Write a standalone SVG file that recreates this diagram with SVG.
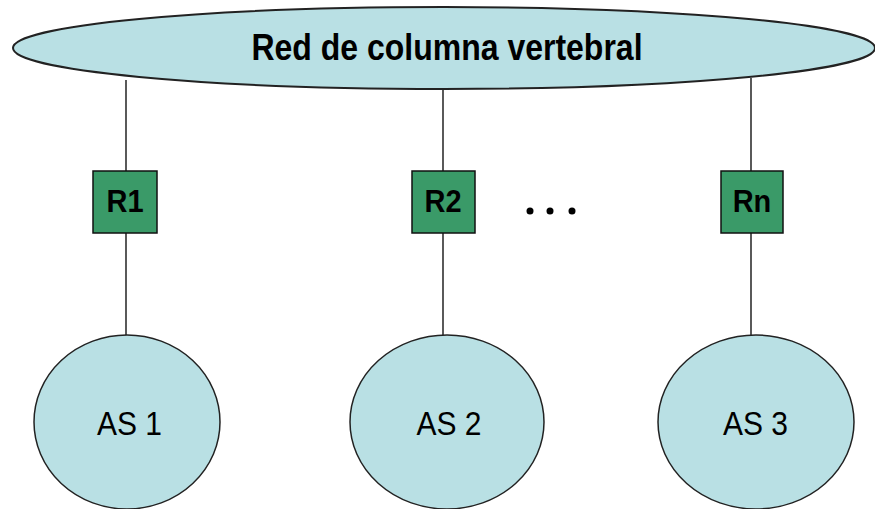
<svg xmlns="http://www.w3.org/2000/svg" width="875" height="509" viewBox="0 0 875 509">
<style>
.cloud{fill:#b9e0e4;stroke:#222;stroke-width:2}
.box{fill:#3a9a68;stroke:#111;stroke-width:1.5}
.link{stroke:#000;stroke-width:1.3;fill:none}
.t{font-family:"Liberation Sans",Arial,sans-serif;fill:#000;text-anchor:middle}
.b{font-weight:bold}
</style>
<rect width="875" height="509" fill="#fff"/>
<g id="connectors">
<line class="link" x1="126" y1="80" x2="126" y2="171"/>
<line class="link" x1="126" y1="233" x2="126" y2="336"/>
<line class="link" x1="443" y1="88" x2="443" y2="171"/>
<line class="link" x1="443" y1="233" x2="443" y2="336"/>
<line class="link" x1="751" y1="78" x2="751" y2="171"/>
<line class="link" x1="751" y1="233" x2="751" y2="336"/>
</g>
<g id="backbone">
<ellipse class="cloud" cx="444" cy="48" rx="431" ry="41"/>
<text class="t b" font-size="32" transform="translate(447,60) scale(1,1.14)">Red de columna vertebral</text>
</g>
<g id="R1">
<rect class="box" x="93" y="171" width="64" height="62"/>
<text class="t b" font-size="29" transform="translate(125,212) scale(1,1.07)">R1</text>
</g>
<g id="R2">
<rect class="box" x="412" y="171" width="63" height="62"/>
<text class="t b" font-size="29" transform="translate(443,212) scale(1,1.07)">R2</text>
</g>
<g id="Rn">
<rect class="box" x="721" y="171" width="62" height="62"/>
<text class="t b" font-size="29" transform="translate(752,212) scale(1,1.07)">Rn</text>
</g>
<g id="dots">
<circle cx="530" cy="211" r="3.5"/>
<circle cx="550" cy="211" r="3.5"/>
<circle cx="572" cy="211" r="3.5"/>
</g>
<g id="AS1">
<ellipse class="cloud" cx="127" cy="422" rx="93" ry="87" style="stroke-width:1.5"/>
<text class="t" font-size="30" transform="translate(129.5,435) scale(1,1.1)">AS 1</text>
</g>
<g id="AS2">
<ellipse class="cloud" cx="447" cy="422" rx="97" ry="87" style="stroke-width:1.5"/>
<text class="t" font-size="30" transform="translate(449,435) scale(1,1.1)">AS 2</text>
</g>
<g id="AS3">
<ellipse class="cloud" cx="756" cy="422" rx="98" ry="87" style="stroke-width:1.5"/>
<text class="t" font-size="30" transform="translate(755.5,435) scale(1,1.1)">AS 3</text>
</g>
</svg>
